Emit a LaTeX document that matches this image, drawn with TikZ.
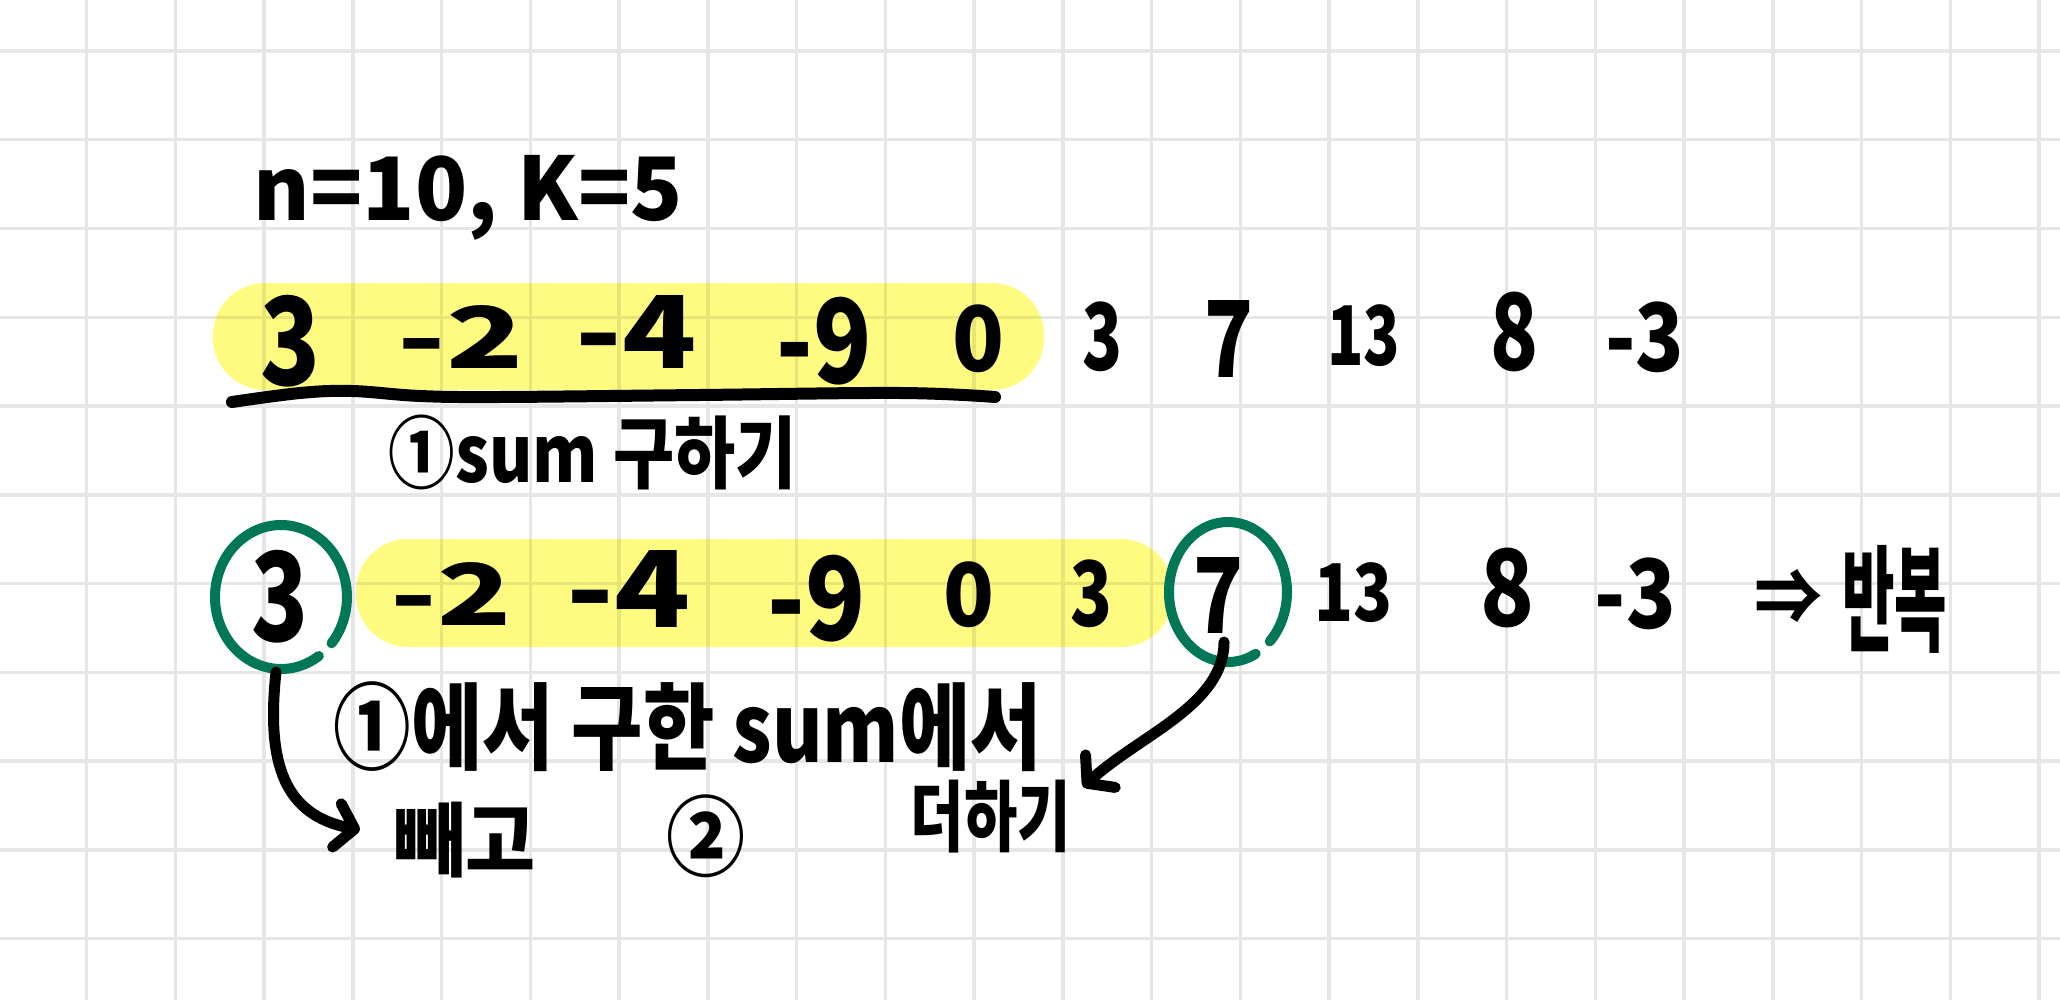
\documentclass[tikz,border=0pt]{standalone}
\usepackage{fontspec}
\usepackage{graphicx}
\setmainfont{Noto Sans CJK KR}
\usetikzlibrary{arrows.meta}
\definecolor{gridc}{RGB}{230,230,230}
\definecolor{hl}{RGB}{255,251,128}
\definecolor{hlgrid}{RGB}{232,228,118}
\definecolor{greenmark}{RGB}{0,120,88}
\newcommand{\fitb}[3]{\resizebox*{#1pt}{#2pt}{\bfseries #3}}
\begin{document}
\begin{tikzpicture}[x=1pt,y=-1pt,
  txt/.style={inner sep=0pt, outer sep=0pt, anchor=center, text=black},
  gridline/.style={draw=gridc, line width=3.5pt},
  gridhl/.style={draw=hlgrid, line width=3.5pt},
  hlbox/.style={fill=hl, rounded corners=52pt},
  ink/.style={draw=black, line width=12pt, line cap=round, line join=round},
  ring/.style={draw=greenmark, line width=10pt, line cap=round},
  arr/.style={draw=black, line width=11pt, line cap=round, line join=round,
    -{Straight Barb[length=18pt,width=44pt,round]}}
]
\useasboundingbox (0,0) rectangle (2060,1000);
\fill[white] (0,0) rectangle (2060,1000);
% grid
\foreach \i in {-1,...,22} \draw[gridline] ({86.7+88.75*\i},0) -- ({86.7+88.75*\i},1000);
\foreach \j in {0,...,10} \draw[gridline] (0,{51+88.75*\j}) -- (2060,{51+88.75*\j});
% highlights
\path[hlbox] (213,283) rectangle (1044,390);
\path[hlbox] (356,539) rectangle (1173,647);
\begin{scope}
  \clip[rounded corners=52pt] (213,283) rectangle (1044,390) (356,539) rectangle (1173,647);
  \foreach \i in {-1,...,22} \draw[gridhl] ({86.7+88.75*\i},0) -- ({86.7+88.75*\i},1000);
  \foreach \j in {0,...,10} \draw[gridhl] (0,{51+88.75*\j}) -- (2060,{51+88.75*\j});
\end{scope}
% underline
\draw[ink] plot[smooth, tension=0.6] coordinates {(232,402) (300,393) (352,391) (420,396) (500,397) (700,395) (900,393) (995,397)};
% header
\node[txt] (hdr) at (468.5,197.5) {\fitb{429}{85}{n=10, K=5}};
% row 1
\node[txt] (a1) at (290,341) {\fitb{60}{92}{3}};
\node[txt] (a2) at (461,336.5) {\fitb{126}{63}{-2}};
\node[txt] (a3) at (636.5,331.5) {\fitb{121}{73}{-4}};
\node[txt] (a4) at (824.5,341) {\fitb{95}{88}{-9}};
\node[txt] (a5) at (978,339) {\fitb{52}{68}{0}};
\node[txt] (a6) at (1102,337) {\fitb{40}{70}{3}};
\node[txt] (a7) at (1228.5,338.5) {\fitb{49}{77}{7}};
\node[txt] (a8) at (1363.5,336) {\fitb{73}{62}{13}};
\node[txt] (a9) at (1514,332) {\fitb{48}{80}{8}};
\node[txt] (a10) at (1644.5,337.5) {\fitb{79}{71}{-3}};
\node[txt] (step1) at (593,452.5) {\fitb{408}{75}{①sum 구하기}};
% row 2
\node[txt] (b1) at (279.5,596.5) {\fitb{57}{93}{3}};
\node[txt] (b2) at (451.5,593.5) {\fitb{121}{63}{-2}};
\node[txt] (b3) at (629,588.5) {\fitb{124}{77}{-4}};
\node[txt] (b4) at (817,598.5) {\fitb{98}{87}{-9}};
\node[txt] (b5) at (968.5,595) {\fitb{51}{66}{0}};
\node[txt] (b6) at (1091,594) {\fitb{42}{68}{3}};
\node[txt] (b7) at (1218,595) {\fitb{50}{76}{7}};
\node[txt] (b8) at (1353,593) {\fitb{78}{60}{13}};
\node[txt] (b9) at (1507,588) {\fitb{54}{80}{8}};
\node[txt] (b10) at (1635.5,594) {\fitb{81}{72}{-3}};
\node[txt] (b11) at (1788,597) {\fitb{68}{55}{⇒}};
\node[txt] (b12) at (1894.5,599) {\fitb{105}{108}{반복}};
% row 3
\node[txt] (c1) at (688,727) {\fitb{708}{90}{①에서 구한 sum에서}};
\node[txt] (c2) at (465,840) {\fitb{140}{76}{빼고}};
\node[txt] (c3) at (705.5,836.5) {\fitb{79}{83}{②}};
\node[txt] (c4) at (991,816.5) {\fitb{160}{73}{더하기}};
% green rings
\coordinate (o3) at (281,597);
\coordinate (o7) at (1228,592);
\draw[ring] (o3) ++(55:66 and 72) arc[start angle=55, end angle=400, x radius=66, y radius=72];
\draw[ring] (o7) ++(62:59 and 70) arc[start angle=62, end angle=405, x radius=59, y radius=70];
% arrows
\coordinate (s3) at (276,672);
\coordinate (e3) at (360,830);
\coordinate (s7) at (1224,642);
\coordinate (e7) at (1083,787);
\draw[arr] (s3) .. controls (266,765) and (285,815) .. (e3);
\draw[arr] (s7) .. controls (1224,705) and (1140,735) .. (e7);
\end{tikzpicture}
\end{document}
